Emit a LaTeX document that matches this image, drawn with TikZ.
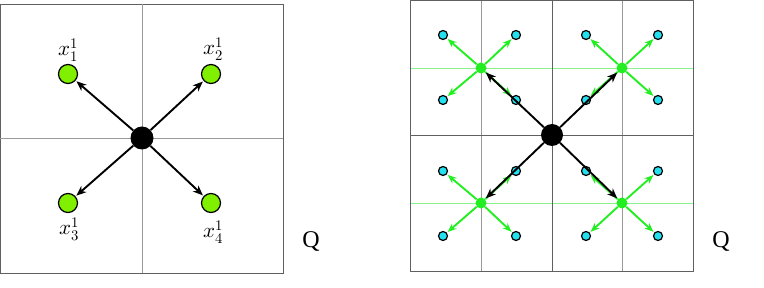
\documentclass[tikz,border=0pt]{standalone}
\usepackage{fontspec}
\setmainfont{Liberation Serif}
\usepackage{unicode-math}
\usetikzlibrary{arrows.meta}
\definecolor{lime}{HTML}{80F000}
\definecolor{brgreen}{HTML}{22EE22}
\definecolor{ltgreen}{HTML}{8CF08C}
\definecolor{cyanfill}{HTML}{22E0EE}
\definecolor{boxgray}{HTML}{606060}
\tikzset{
  boxline/.style={draw=boxgray, line width=0.9pt},
  subline/.style={draw=gray!80, line width=0.9pt},
  bigdot/.style={circle, fill=black, inner sep=0pt, minimum size=23pt},
  limedot/.style={circle, draw=black, line width=1.2pt, fill=lime, inner sep=0pt, minimum size=19pt},
  gdot/.style={circle, fill=brgreen, inner sep=0pt, minimum size=11pt},
  cdot/.style={circle, draw=black, line width=1.2pt, fill=cyanfill, inner sep=0pt, minimum size=9pt},
  barrow/.style={draw=black, line width=1.9pt, -{Stealth[length=10pt,width=8pt,inset=3pt]}, shorten >=1pt},
  garrow/.style={draw=brgreen, line width=1.9pt, -{Stealth[length=9pt,width=7pt,inset=3pt]}, shorten >=1pt},
  lbl/.style={font=\fontsize{21}{21}\selectfont, inner sep=0pt},
  qlbl/.style={font=\fontsize{24}{24}\selectfont, inner sep=0pt},
}
\begin{document}
\begin{tikzpicture}[x=1pt,y=-1pt]
\useasboundingbox (0,0) rectangle (764,288);
% ---------- left panel ----------
\draw[boxline] (0,4) rectangle (283,273);
\draw[subline] (142,4) -- (142,273);
\draw[subline] (0,138) -- (283,138);
\node[bigdot] (c) at (142,138) {};
\node[limedot] (g1) at (68,74) {};
\node[limedot] (g2) at (211,74) {};
\node[limedot] (g3) at (68,203) {};
\node[limedot] (g4) at (211,203) {};
\draw[barrow] (c) -- (g1);
\draw[barrow] (c) -- (g2);
\draw[barrow] (c) -- (g3);
\draw[barrow] (c) -- (g4);
\node[lbl] (l1) at (68,50) {$x_1^1$};
\node[lbl] (l2) at (213,49) {$x_2^1$};
\node[lbl] (l3) at (69,229) {$x_3^1$};
\node[lbl] (l4) at (213,232) {$x_4^1$};
\node[qlbl] (q1) at (311,242) {Q};
% ---------- right panel ----------
\draw[subline] (481,0) -- (481,271);
\draw[subline] (622,0) -- (622,271);
\draw[draw=ltgreen, line width=0.9pt] (410,68) -- (693,68);
\draw[draw=ltgreen, line width=0.9pt] (410,203) -- (693,203);
\draw[boxline] (410,0) rectangle (693,271);
\draw[boxline] (552,0) -- (552,271);
\draw[boxline] (410,135) -- (693,135);
% cyan dots
\foreach \n/\x/\y in {a1/443/35, a2/516/35, a3/443/100, a4/516/100,
                      b1/586/35, b2/658/35, b3/586/100, b4/658/100,
                      c1/443/171, c2/516/171, c3/443/236, c4/516/236,
                      d1/586/171, d2/658/171, d3/586/236, d4/658/236}
  \node[cdot] (\n) at (\x,\y) {};
% green dots
\node[gdot] (ga) at (481,68) {};
\node[gdot] (gb) at (622,68) {};
\node[gdot] (gc) at (481,203) {};
\node[gdot] (gd) at (622,203) {};
\foreach \g/\p in {ga/a, gb/b, gc/c, gd/d}
  \foreach \i in {1,2,3,4}
    \draw[garrow] (\g) -- (\p\i);
\node[bigdot, minimum size=22pt] (C) at (552,135) {};
\draw[barrow] (C) -- (ga);
\draw[barrow] (C) -- (gb);
\draw[barrow] (C) -- (gc);
\draw[barrow] (C) -- (gd);
\node[qlbl] (q2) at (721,242) {Q};
\end{tikzpicture}
\end{document}
